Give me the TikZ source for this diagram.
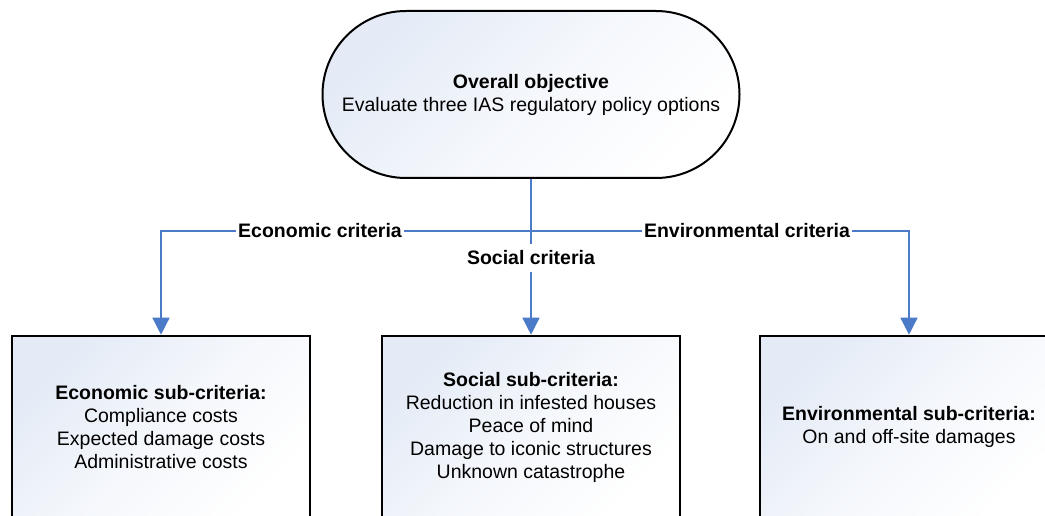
\documentclass[tikz,border=0pt]{standalone}
\usepackage{fontspec}
\setmainfont{Liberation Sans}
\usetikzlibrary{arrows.meta}
\definecolor{linkblue}{RGB}{74,122,200}
\definecolor{boxtint}{RGB}{228,235,246}

\begin{document}
\begin{tikzpicture}[x=1pt,y=1pt,
    every node/.style={align=center,font=\fontsize{19.5}{23}\selectfont},
    box/.style={draw=black,line width=2.6pt,minimum width=298pt,minimum height=182pt,
                top color=boxtint,bottom color=white,middle color=white!60!boxtint,shading angle=45},
    goal/.style={draw=black,line width=2pt,minimum width=417pt,minimum height=167pt,
                 rounded corners=83.5pt,top color=boxtint,bottom color=white,middle color=white!60!boxtint,shading angle=45},
    link/.style={linkblue,line width=1.5pt},
    flow/.style={link,-{Triangle[width=17pt,length=17pt]}},
    crit/.style={fill=white,inner xsep=2pt,inner ysep=6pt,font=\fontsize{19.5}{23}\selectfont\bfseries}]
  \useasboundingbox (0,0) rectangle (1045,515);
  \clip (0,0) rectangle (1045,515);
  % ---- nodes ----
  \node[goal] (obj) at (531,420.5) {{\bfseries Overall objective}\\Evaluate three IAS regulatory policy options};
  \node[box] (eco) at (161,88) {{\bfseries Economic sub-criteria:}\\Compliance costs\\Expected damage costs\\Administrative costs};
  \node[box] (soc) at (531,88) {{\bfseries Social sub-criteria:}\\Reduction in infested houses\\Peace of mind\\Damage to iconic structures\\Unknown catastrophe};
  \node[box] (env) at (909,88) {{\bfseries Environmental sub-criteria:}\\On and off-site damages};
  \coordinate (hub) at (531,284);
  % ---- connectors ----
  \draw[flow] (obj.south) -- (soc.north);
  \draw[flow] (hub) -| (eco.north);
  \draw[flow] (hub) -| (env.north);
  % ---- criteria labels ----
  \node[crit] (ecolab) at (320,284) {Economic criteria};
  \node[crit] (envlab) at (747,284) {Environmental criteria};
  \node[crit,inner ysep=7pt] (soclab) at (531,257) {Social criteria};
\end{tikzpicture}
\end{document}
